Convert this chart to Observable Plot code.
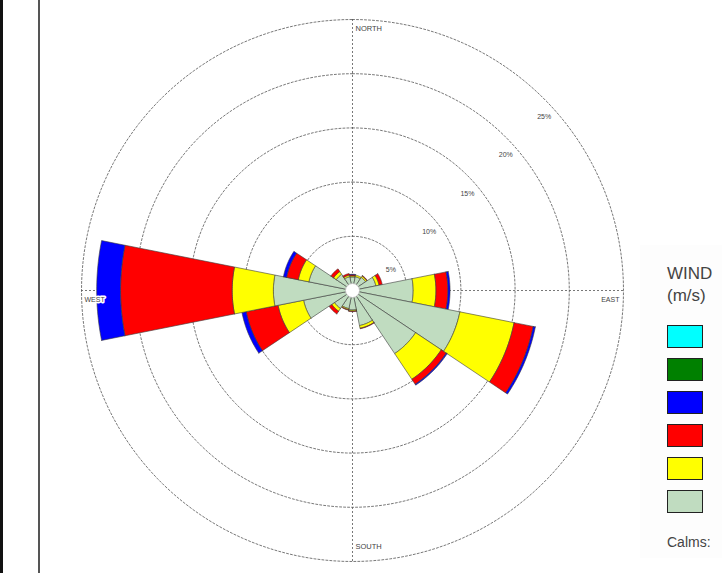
<!DOCTYPE html>
<html>
<head>
<meta charset="utf-8">
<script src="https://cdn.jsdelivr.net/npm/d3@7"></script>
<script src="https://cdn.jsdelivr.net/npm/@observablehq/plot@0.6"></script>
<style>
  html, body { margin: 0; padding: 0; background: #ffffff; }
  #wrap { position: relative; width: 722px; height: 573px; overflow: hidden; font-family: "Liberation Sans", Arial, sans-serif; }
  #frameA { position: absolute; left: 0; top: 0; width: 3px; height: 573px; background: #111; }
  #frameB { position: absolute; left: 38px; top: 0; width: 2px; height: 573px; background: #555; }
  #chart { position: absolute; left: 0; top: 0; }
  #legend { position: absolute; left: 640px; top: 245px; width: 82px; height: 313px; background: #fdfdfd; color: #444; }
  #legend .title { position: absolute; left: 27px; top: 18px; font-size: 17px; line-height: 22px; white-space: nowrap; }
  #legend .box { position: absolute; left: 27px; width: 36px; height: 23px; border: 1px solid #222; box-sizing: border-box; }
  #legend .calms { position: absolute; left: 27px; top: 289px; font-size: 14px; white-space: nowrap; }
</style>
</head>
<body>
<div id="wrap">
  <div id="frameA"></div>
  <div id="frameB"></div>
  <div id="chart"></div>
  <div id="legend"></div>
</div>
<script>
// ---- data (percent frequency per direction and wind-speed class) ----
const directions = ["N","NNE","NE","ENE","E","ESE","SE","SSE","S","SSW","SW","WSW","W","WNW","NW","NNW"];
const classNames = ["class1","class2","class3","class4","class5","class6"];
const classColors = ["#c0dcc0","#ffff00","#ff0000","#0000ff","#008000","#00ffff"];
const class1 = [1.25,1.3,1.45,2.2,5.6,10.1,7.0,3.3,1.8,1.7,2.0,4.6,7.3,4.1,1.8,1.3];
const class2 = [0.1,0.15,0.15,0.3,2.1,5.1,2.85,0.25,0.1,0.1,0.3,2.4,3.8,1.0,0.3,0.15];
const class3 = [0.1,0,0.05,0.3,1.1,1.8,0.55,0.05,0.05,0.05,0.3,3.0,10.3,1.1,0.3,0.15];
const class4 = [0.05,0,0,0,0.2,0.2,0.1,0,0,0,0,0.4,2.2,0.3,0,0];
const class5 = [0,0,0,0,0,0,0,0,0,0,0,0,0,0,0,0];
const class6 = [0,0,0,0,0,0,0,0,0,0,0,0,0,0,0,0];
const ringValues = [5,10,15,20,25];
const ringLabels = ["5%","10%","15%","20%","25%"];
const cardinalLabels = ["NORTH","EAST","SOUTH","WEST"];
const legendTitle = ["WIND","(m/s)"];
const calmsLabel = "Calms:";

// ---- build polygons ----
const classValues = [class1,class2,class3,class4,class5,class6];
const sector = 360 / directions.length;
const rad = Math.PI / 180;
const wedges = [];
directions.forEach((d, i) => {
  let cum = 0;
  classValues.forEach((vals, k) => {
    const v = vals[i];
    if (!v) return;
    const r0 = cum, r1 = cum + v;
    cum = r1;
    const a0 = (i * sector - sector / 2) * rad, a1 = (i * sector + sector / 2) * rad;
    const id = d + "-" + k;
    const n = 24;
    const pts = [];
    for (let j = 0; j <= n; j++) { const a = a0 + (a1 - a0) * j / n; pts.push([r1 * Math.sin(a), r1 * Math.cos(a)]); }
    for (let j = n; j >= 0; j--) { const a = a0 + (a1 - a0) * j / n; pts.push([r0 * Math.sin(a), r0 * Math.cos(a)]); }
    pts.push(pts[0]);
    pts.forEach(p => wedges.push({id, cls: classNames[k], x: p[0], y: p[1]}));
  });
});
const rings = [];
ringValues.forEach(r => {
  for (let j = 0; j <= 360; j += 2) rings.push({ring: r, x: r * Math.sin(j * rad), y: r * Math.cos(j * rad)});
});
const outer = ringValues[ringValues.length - 1];
const ringText = ringValues.map((r, i) => ({x: r * Math.SQRT1_2, y: r * Math.SQRT1_2, label: ringLabels[i]}));

// ---- scales ----
const W = 722, H = 573, k = 10.84, cx = 352, cy = 290;
const dash = {stroke: "#555", strokeWidth: 0.8, strokeDasharray: "2,2"};

const chart = Plot.plot({
  width: W, height: H,
  marginLeft: 0, marginRight: 0, marginTop: 0, marginBottom: 0,
  x: {domain: [-cx / k, (W - cx) / k], axis: null},
  y: {domain: [-(H - cy) / k, cy / k], axis: null},
  color: {type: "ordinal", domain: classNames, range: classColors},
  style: {background: "transparent", fontFamily: "'Liberation Sans', Arial, sans-serif"},
  marks: [
    Plot.line(rings, {x: "x", y: "y", z: "ring", fill: "none", ...dash}),
    Plot.ruleX([0], {y1: -outer, y2: outer, ...dash}),
    Plot.ruleY([0], {x1: -outer, x2: outer, ...dash}),
    Plot.line(wedges, {x: "x", y: "y", z: "id", fill: "cls", stroke: "#3a3a3a", strokeWidth: 0.6, strokeLinejoin: "round"}),
    Plot.dot([{x: 0, y: 0}], {x: "x", y: "y", r: 7, fill: "white", stroke: "#bbb", strokeWidth: 0.8}),
    Plot.text(ringText, {x: "x", y: "y", text: "label", dy: 18, fontSize: 7, fill: "#444"}),
    Plot.text([cardinalLabels[0]], {x: 0, y: outer, text: d => d, textAnchor: "start", dx: 3, dy: 9, fontSize: 7.5, fill: "#444"}),
    Plot.text([cardinalLabels[2]], {x: 0, y: -outer, text: d => d, textAnchor: "start", dx: 3, dy: -15, fontSize: 7.5, fill: "#444"}),
    Plot.text([cardinalLabels[1]], {x: outer, y: 0, text: d => d, textAnchor: "end", dx: -4, dy: 9, fontSize: 7, fill: "#444"}),
    Plot.text([cardinalLabels[3]], {x: -outer, y: 0, text: d => d, textAnchor: "start", dx: 3, dy: 9, fontSize: 7, fill: "#444", stroke: "white", strokeWidth: 3})
  ]
});
document.getElementById("chart").appendChild(chart);

// ---- legend ----
const legend = document.getElementById("legend");
const t = document.createElement("div");
t.className = "title";
t.innerHTML = legendTitle.join("<br>");
legend.appendChild(t);
const order = classColors.slice().reverse();
order.forEach((c, i) => {
  const b = document.createElement("div");
  b.className = "box";
  b.style.top = (80 + i * 33) + "px";
  b.style.background = c;
  legend.appendChild(b);
});
const cl = document.createElement("div");
cl.className = "calms";
cl.textContent = calmsLabel;
legend.appendChild(cl);
</script>
</body>
</html>
